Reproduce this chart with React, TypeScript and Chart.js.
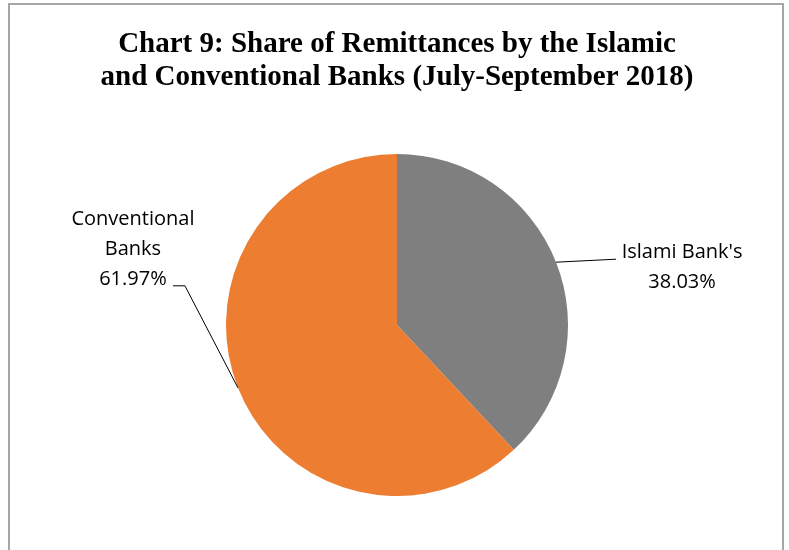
import React, { useEffect, useRef } from "react";
import { Chart, registerables } from "chart.js";

Chart.register(...registerables);

const titleLines = [
  "Chart 9: Share of Remittances by the Islamic",
  "and Conventional Banks (July-September 2018)",
];
const categories = ["Islami Bank's", "Conventional Banks"];
const labelLines = [["Islami Bank's"], ["Conventional", "Banks"]];
const shares = [38.03, 61.97];
const colors = ["#7f7f7f", "#ed7d31"];

const W = 789;
const H = 550;

const framePlugin = {
  id: "frameAndLabels",
  beforeDraw(chart: any) {
    const ctx = chart.ctx;
    ctx.save();
    ctx.fillStyle = "#ffffff";
    ctx.fillRect(0, 0, W, H);
    ctx.strokeStyle = "#a6a6a6";
    ctx.lineWidth = 2;
    ctx.beginPath();
    ctx.moveTo(9, H + 5);
    ctx.lineTo(9, 4);
    ctx.lineTo(783, 4);
    ctx.lineTo(783, H + 5);
    ctx.stroke();
    // title
    ctx.fillStyle = "#000000";
    ctx.font = "bold 29px 'Liberation Serif', 'Times New Roman', serif";
    ctx.textAlign = "center";
    ctx.textBaseline = "middle";
    ctx.fillText(titleLines[0], 397, 45);
    ctx.fillText(titleLines[1], 397, 78);
    ctx.restore();
  },
  afterDraw(chart: any) {
    const ctx = chart.ctx;
    const meta = chart.getDatasetMeta(0);
    ctx.save();
    ctx.font = "20px 'Open Sans', sans-serif";
    ctx.fillStyle = "#000000";
    ctx.strokeStyle = "#000000";
    ctx.lineWidth = 1;
    ctx.textBaseline = "middle";
    ctx.textAlign = "center";
    meta.data.forEach((arc: any, i: number) => {
      const { x, y, startAngle, endAngle, outerRadius } = arc.getProps(
        ["x", "y", "startAngle", "endAngle", "outerRadius"],
        true
      );
      const mid = (startAngle + endAngle) / 2;
      const px = x + Math.cos(mid) * outerRadius;
      const py = y + Math.sin(mid) * outerRadius;
      const pct = shares[i].toFixed(2) + "%";
      const lines = [...labelLines[i], pct];
      ctx.beginPath();
      if (Math.cos(mid) >= 0) {
        const ex = px + 60;
        const ey = py - 3;
        ctx.moveTo(px, py);
        ctx.lineTo(ex, ey);
        ctx.stroke();
        const cx = ex + 66;
        lines.forEach((t, k) => ctx.fillText(t, cx, ey - 7 + k * 30));
      } else {
        const ex = px - 53;
        const ey = py - 102;
        ctx.moveTo(px, py);
        ctx.lineTo(ex, ey);
        ctx.lineTo(ex - 12, ey);
        ctx.stroke();
        const cx = ex - 52;
        lines.forEach((t, k) =>
          ctx.fillText(t, cx, ey - 7 - (lines.length - 1 - k) * 30)
        );
      }
    });
    ctx.restore();
  },
};

export default function App() {
  const ref = useRef<HTMLCanvasElement | null>(null);
  useEffect(() => {
    document.body.style.margin = "0";
    if (!ref.current) return;
    const chart = new Chart(ref.current, {
      type: "pie",
      data: {
        labels: categories,
        datasets: [
          {
            data: shares,
            backgroundColor: colors,
            borderWidth: 0,
          },
        ],
      },
      options: {
        animation: false,
        responsive: false,
        maintainAspectRatio: false,
        layout: { padding: { top: 154, bottom: 54, left: 200, right: 195 } },
        plugins: {
          legend: { display: false },
          title: { display: false },
          tooltip: { enabled: false },
        },
      },
      plugins: [framePlugin],
    });
    return () => chart.destroy();
  }, []);
  return (
    <div style={{ position: "relative", width: W, height: H }}>
      <canvas ref={ref} width={W} height={H} style={{ display: "block" }} />
    </div>
  );
}
